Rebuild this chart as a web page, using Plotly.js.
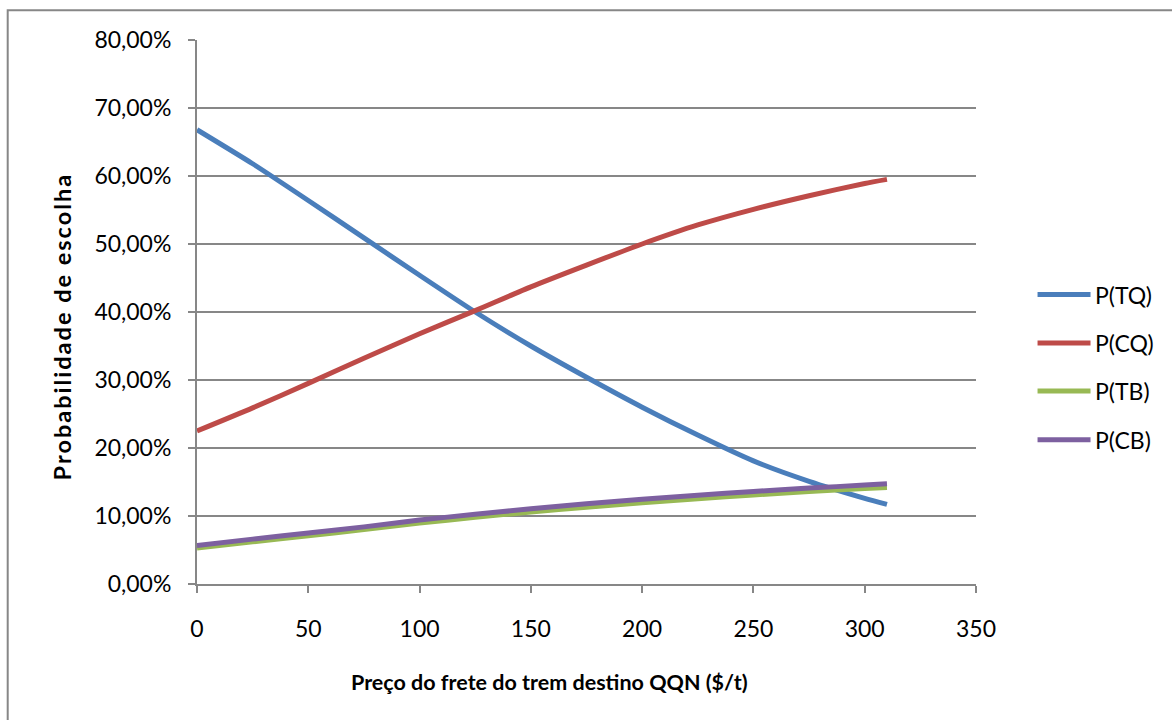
<!DOCTYPE html>
<html>
<head>
<meta charset="utf-8">
<script src="https://cdn.plot.ly/plotly-3.0.1.min.js"></script>
<style>
  html, body { margin: 0; padding: 0; background: #ffffff; }
  #chart { width: 1172px; height: 720px; }
</style>
</head>
<body>
<div id="chart"></div>
<script>
// Freight price of the train to QQN ($/t)
const preco = [0, 25, 50, 75, 100, 125, 150, 175, 200, 225, 250, 275, 300, 310];

// Choice probabilities per alternative
const pTQ = [0.668, 0.618, 0.564, 0.509, 0.454, 0.400, 0.350, 0.304, 0.260, 0.219, 0.181, 0.151, 0.126, 0.117];
const pCQ = [0.225, 0.259, 0.295, 0.332, 0.368, 0.402, 0.437, 0.469, 0.500, 0.528, 0.551, 0.571, 0.589, 0.595];
const pTB = [0.053, 0.062, 0.071, 0.080, 0.0895, 0.098, 0.106, 0.113, 0.1195, 0.1255, 0.131, 0.136, 0.1405, 0.142];
const pCB = [0.0565, 0.066, 0.075, 0.084, 0.094, 0.1025, 0.1105, 0.118, 0.1245, 0.1305, 0.136, 0.141, 0.1455, 0.1475];

const seriesNames = ['P(TQ)', 'P(CQ)', 'P(TB)', 'P(CB)'];
const seriesColors = ['#4A7EBB', '#BE4B48', '#98B954', '#7D60A0'];
const seriesValues = [pTQ, pCQ, pTB, pCB];

const xTitle = 'Preço do frete do trem destino QQN ($/t)';
const yTitle = 'Probabilidade de escolha';

const fontFamily = 'Lato, "Open Sans", "Liberation Sans", sans-serif';
const gridGray = '#878787';

const traces = seriesValues.map((vals, i) => ({
  x: preco,
  y: vals,
  type: 'scatter',
  mode: 'lines',
  name: seriesNames[i],
  line: { color: seriesColors[i], width: 5, shape: 'spline', smoothing: 0.6 },
  showlegend: false,
  hoverinfo: 'x+y+name'
}));

// Legend drawn at the right of the plot area
const legendY = [0.532, 0.443, 0.355, 0.265];
const shapes = [];
const annotations = [];
seriesNames.forEach((nm, i) => {
  shapes.push({
    type: 'line', xref: 'paper', yref: 'paper',
    x0: 1.079, x1: 1.147, y0: legendY[i], y1: legendY[i],
    line: { color: seriesColors[i], width: 5 }
  });
  annotations.push({
    xref: 'paper', yref: 'paper', x: 1.150, y: legendY[i],
    xanchor: 'left', yanchor: 'middle', showarrow: false,
    text: nm, font: { family: fontFamily, size: 23, color: '#000000' }
  });
});

// Axis titles
annotations.push({
  xref: 'paper', yref: 'paper', x: 0.453, y: -0.181,
  xanchor: 'center', yanchor: 'middle', showarrow: false,
  text: '<b>' + xTitle + '</b>',
  font: { family: fontFamily, size: 21.5, color: '#000000' }
});
annotations.push({
  xref: 'paper', yref: 'paper', x: -0.173, y: 0.474,
  xanchor: 'center', yanchor: 'middle', showarrow: false, textangle: -90,
  text: '<b><span style="letter-spacing:2px">' + yTitle + '</span></b>',
  font: { family: fontFamily, size: 23.5, color: '#000000' }
});

// Outer chart frame
shapes.push({
  type: 'rect', xref: 'paper', yref: 'paper',
  x0: -0.243, x1: 1.3, y0: -0.3, y1: 1.0545,
  line: { color: gridGray, width: 2 }, layer: 'below'
});

const layout = {
  width: 1172,
  height: 720,
  paper_bgcolor: '#ffffff',
  plot_bgcolor: '#ffffff',
  separators: ',.',
  margin: { l: 197, r: 196, t: 39.5, b: 135.5, pad: 0 },
  font: { family: fontFamily, color: '#000000' },
  xaxis: {
    range: [0, 350],
    dtick: 50,
    tick0: 0,
    showgrid: false,
    zeroline: false,
    showline: true,
    linecolor: gridGray,
    linewidth: 2,
    ticks: 'outside',
    ticklen: 7,
    tickwidth: 2,
    tickcolor: gridGray,
    ticklabelstandoff: 16,
    tickfont: { family: fontFamily, size: 23, color: '#000000' },
    fixedrange: true
  },
  yaxis: {
    range: [0, 0.8],
    dtick: 0.1,
    tick0: 0,
    tickformat: '.2%',
    showgrid: true,
    gridcolor: gridGray,
    gridwidth: 2,
    zeroline: false,
    showline: true,
    linecolor: gridGray,
    linewidth: 2,
    ticks: 'outside',
    ticklen: 7,
    tickwidth: 2,
    tickcolor: gridGray,
    ticklabelstandoff: 12,
    tickfont: { family: fontFamily, size: 23, color: '#000000' },
    fixedrange: true
  },
  shapes: shapes,
  annotations: annotations,
  showlegend: false
};

Plotly.newPlot('chart', traces, layout, { displayModeBar: false, staticPlot: true });
</script>
</body>
</html>
